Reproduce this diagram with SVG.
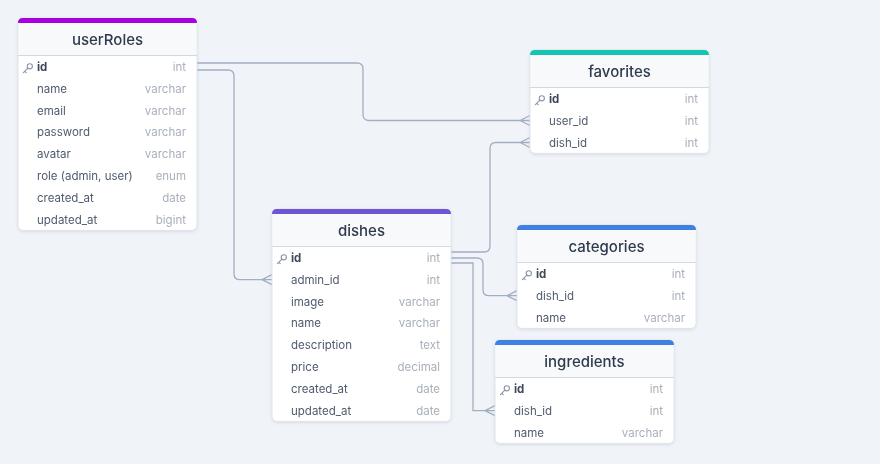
<svg xmlns="http://www.w3.org/2000/svg" width="880" height="464" viewBox="0 0 880 464">
<defs>
<filter id="sh" x="-10%" y="-10%" width="120%" height="130%">
<feDropShadow dx="0" dy="1" stdDeviation="1.5" flood-color="#5a6b85" flood-opacity="0.18"/>
</filter>
<g id="key"><circle cx="3.8" cy="-2.2" r="2.6" fill="none" stroke="#8a94a6" stroke-width="1.1"/><path d="M1.9,-0.3 L-2.6,4.2 M-1.2,2.8 L0.2,4.2" fill="none" stroke="#8a94a6" stroke-width="1.1" stroke-linecap="round"/></g>
</defs>
<style>
.card{fill:#ffffff;stroke:#dfe4ec;stroke-width:1}
.hdr{fill:#f7f9fb}
.sep{stroke:#d3d9e3;stroke-width:1}
.title{font-family:Inter,"Noto Sans",sans-serif;font-size:15px;font-weight:500;fill:#2f3a4f;text-anchor:middle}
.fn{font-family:Inter,"Noto Sans",sans-serif;font-size:11.5px;fill:#4f5b6e}
.pk{font-weight:bold;fill:#3d4759}
.ty{font-family:Inter,"Noto Sans",sans-serif;font-size:11.5px;fill:#a9b0bb;text-anchor:end}
.conn{fill:none;stroke:#a3adc4;stroke-width:1.3}
</style>
<rect width="880" height="464" fill="#f0f4f8"/>

<g id="connectors">
<path class="conn" d="M197,63 H357 Q363,63 363,69 V114.5 Q363,120.5 369,120.5 H530 M520,120.5 L530,115.5 M520,120.5 L530,125.5"/>
<path class="conn" d="M197,70 H228 Q234,70 234,76 V273.7 Q234,279.7 240,279.7 H272 M262,279.7 L272,274.7 M262,279.7 L272,284.7"/>
<path class="conn" d="M451,252 H484 Q490,252 490,246 V148.5 Q490,142.5 496,142.5 H530 M520,142.5 L530,137.5 M520,142.5 L530,147.5"/>
<path class="conn" d="M451,258 H477 Q483,258 483,264 V289.7 Q483,295.7 489,295.7 H517 M507,295.7 L517,290.7 M507,295.7 L517,300.7"/>
<path class="conn" d="M451,263 H473 V410.7 H495 M485,410.7 L495,405.7 M485,410.7 L495,415.7"/>
</g>

<g id="userRoles" filter="url(#sh)">
<rect class="card" x="18" y="18" width="179" height="212.4" rx="5"/>
<path class="hdr" d="M18.5,22 H196.5 V55.5 H18.5 Z"/>
<path d="M18,23 V23 Q18,18 23,18 H192 Q197,18 197,23 Z" fill="#a600e0"/>
<line class="sep" x1="18" y1="55.5" x2="197" y2="55.5"/>
<text class="title" x="107.5" y="45">userRoles</text>
<use href="#key" x="26" y="68.5"/>
<text class="fn pk" x="37" y="71">id</text><text class="ty" x="186" y="71">int</text>
<text class="fn" x="37" y="92.8">name</text><text class="ty" x="186" y="92.8">varchar</text>
<text class="fn" x="37" y="114.6">email</text><text class="ty" x="186" y="114.6">varchar</text>
<text class="fn" x="37" y="136.4">password</text><text class="ty" x="186" y="136.4">varchar</text>
<text class="fn" x="37" y="158.2">avatar</text><text class="ty" x="186" y="158.2">varchar</text>
<text class="fn" x="37" y="180">role (admin, user)</text><text class="ty" x="186" y="180">enum</text>
<text class="fn" x="37" y="201.8">created_at</text><text class="ty" x="186" y="201.8">date</text>
<text class="fn" x="37" y="223.6">updated_at</text><text class="ty" x="186" y="223.6">bigint</text>
</g>

<g id="favorites" filter="url(#sh)">
<rect class="card" x="530" y="50" width="179" height="103.4" rx="5"/>
<path class="hdr" d="M530.5,54 H708.5 V87.5 H530.5 Z"/>
<path d="M530,55 Q530,50 535,50 H704 Q709,50 709,55 Z" fill="#17c4b2"/>
<line class="sep" x1="530" y1="87.5" x2="709" y2="87.5"/>
<text class="title" x="619.5" y="77">favorites</text>
<use href="#key" x="538" y="100.5"/>
<text class="fn pk" x="549" y="103">id</text><text class="ty" x="698" y="103">int</text>
<text class="fn" x="549" y="124.8">user_id</text><text class="ty" x="698" y="124.8">int</text>
<text class="fn" x="549" y="146.6">dish_id</text><text class="ty" x="698" y="146.6">int</text>
</g>

<g id="dishes" filter="url(#sh)">
<rect class="card" x="272" y="209" width="179" height="212.4" rx="5"/>
<path class="hdr" d="M272.5,213 H450.5 V246.5 H272.5 Z"/>
<path d="M272,214 Q272,209 277,209 H446 Q451,209 451,214 Z" fill="#6f55d2"/>
<line class="sep" x1="272" y1="246.5" x2="451" y2="246.5"/>
<text class="title" x="361.5" y="236">dishes</text>
<use href="#key" x="280" y="259.5"/>
<text class="fn pk" x="291" y="262">id</text><text class="ty" x="440" y="262">int</text>
<text class="fn" x="291" y="283.8">admin_id</text><text class="ty" x="440" y="283.8">int</text>
<text class="fn" x="291" y="305.6">image</text><text class="ty" x="440" y="305.6">varchar</text>
<text class="fn" x="291" y="327.4">name</text><text class="ty" x="440" y="327.4">varchar</text>
<text class="fn" x="291" y="349.2">description</text><text class="ty" x="440" y="349.2">text</text>
<text class="fn" x="291" y="371">price</text><text class="ty" x="440" y="371">decimal</text>
<text class="fn" x="291" y="392.8">created_at</text><text class="ty" x="440" y="392.8">date</text>
<text class="fn" x="291" y="414.6">updated_at</text><text class="ty" x="440" y="414.6">date</text>
</g>

<g id="categories" filter="url(#sh)">
<rect class="card" x="517" y="225" width="179" height="103.4" rx="5"/>
<path class="hdr" d="M517.5,229 H695.5 V262.5 H517.5 Z"/>
<path d="M517,230 Q517,225 522,225 H691 Q696,225 696,230 Z" fill="#3f80e0"/>
<line class="sep" x1="517" y1="262.5" x2="696" y2="262.5"/>
<text class="title" x="606.5" y="252">categories</text>
<use href="#key" x="525" y="275.5"/>
<text class="fn pk" x="536" y="278">id</text><text class="ty" x="685" y="278">int</text>
<text class="fn" x="536" y="299.8">dish_id</text><text class="ty" x="685" y="299.8">int</text>
<text class="fn" x="536" y="321.6">name</text><text class="ty" x="685" y="321.6">varchar</text>
</g>

<g id="ingredients" filter="url(#sh)">
<rect class="card" x="495" y="340" width="179" height="103.4" rx="5"/>
<path class="hdr" d="M495.5,344 H673.5 V377.5 H495.5 Z"/>
<path d="M495,345 Q495,340 500,340 H669 Q674,340 674,345 Z" fill="#3f80e0"/>
<line class="sep" x1="495" y1="377.5" x2="674" y2="377.5"/>
<text class="title" x="584.5" y="367">ingredients</text>
<use href="#key" x="503" y="390.5"/>
<text class="fn pk" x="514" y="393">id</text><text class="ty" x="663" y="393">int</text>
<text class="fn" x="514" y="414.8">dish_id</text><text class="ty" x="663" y="414.8">int</text>
<text class="fn" x="514" y="436.6">name</text><text class="ty" x="663" y="436.6">varchar</text>
</g>
</svg>
